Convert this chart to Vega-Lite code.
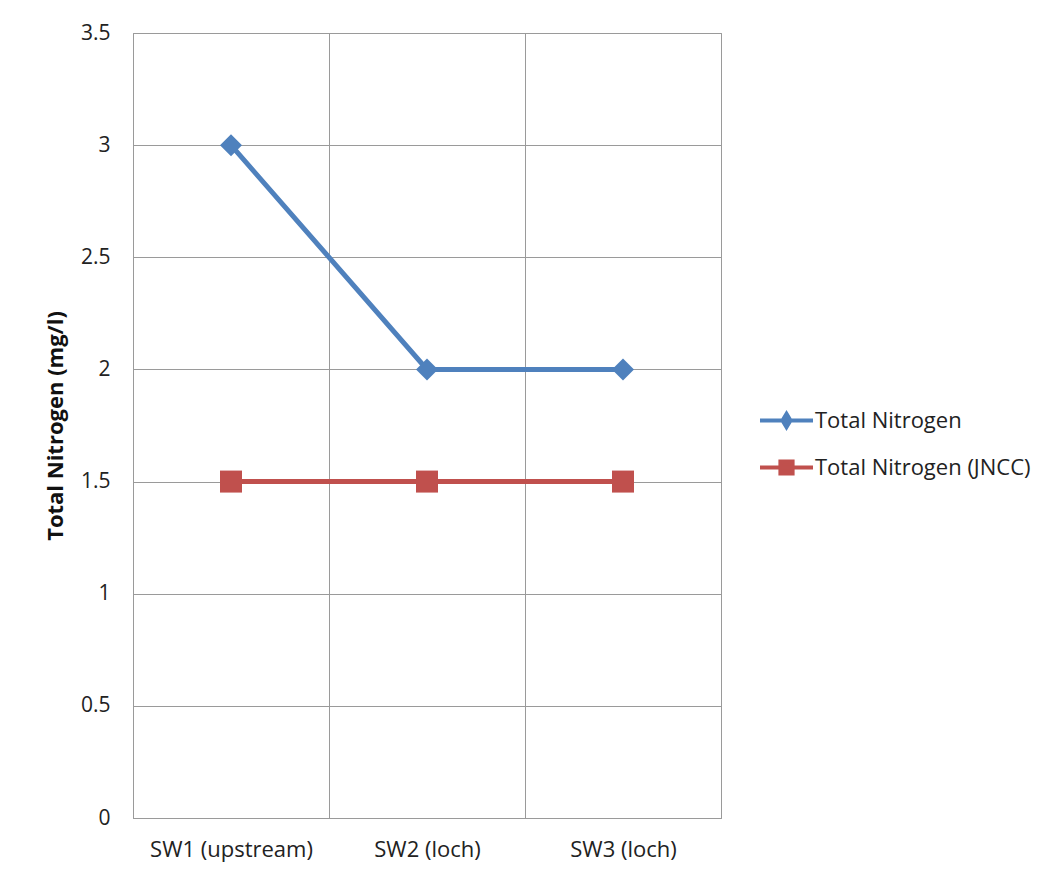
{
  "$schema": "https://vega.github.io/schema/vega-lite/v6.json",
  "width": 588,
  "height": 785,
  "autosize": {"type": "none"},
  "padding": {"left": 133, "top": 33, "right": 330, "bottom": 61},
  "background": "white",
  "config": {
    "font": "Open Sans",
    "view": {"stroke": "#9a9a9a", "strokeWidth": 1}
  },
  "data": {
    "values": [
      {"site": "SW1 (upstream)", "series": "Total Nitrogen", "value": 3},
      {"site": "SW2 (loch)", "series": "Total Nitrogen", "value": 2},
      {"site": "SW3 (loch)", "series": "Total Nitrogen", "value": 2},
      {"site": "SW1 (upstream)", "series": "Total Nitrogen (JNCC)", "value": 1.5},
      {"site": "SW2 (loch)", "series": "Total Nitrogen (JNCC)", "value": 1.5},
      {"site": "SW3 (loch)", "series": "Total Nitrogen (JNCC)", "value": 1.5}
    ]
  },
  "encoding": {
    "x": {
      "field": "site",
      "type": "nominal",
      "sort": null,
      "scale": {"type": "band", "paddingInner": 0, "paddingOuter": 0},
      "axis": {
        "title": null,
        "labelAngle": 0,
        "labelFontSize": 22,
        "labelColor": "#222222",
        "labelPadding": 21,
        "ticks": false,
        "tickBand": "extent",
        "grid": true,
        "gridColor": "#9a9a9a",
        "domainColor": "#9a9a9a"
      }
    },
    "y": {
      "field": "value",
      "type": "quantitative",
      "scale": {"domain": [0, 3.5], "nice": false},
      "axis": {
        "values": [0, 0.5, 1, 1.5, 2, 2.5, 3, 3.5],
        "format": "~g",
        "title": "Total Nitrogen (mg/l)",
        "titleFontSize": 22,
        "titleFontWeight": "bold",
        "titleColor": "#111111",
        "titlePadding": 13,
        "labelFontSize": 21,
        "labelColor": "#222222",
        "labelPadding": 23,
        "ticks": false,
        "grid": true,
        "gridColor": "#9a9a9a",
        "domainColor": "#9a9a9a"
      }
    },
    "color": {
      "field": "series",
      "type": "nominal",
      "scale": {
        "domain": ["Total Nitrogen", "Total Nitrogen (JNCC)"],
        "range": ["#4F81BD", "#C0504D"]
      }
    }
  },
  "resolve": {"scale": {"shape": "independent", "size": "independent"}, "legend": {"shape": "independent"}},
  "layer": [
    {
      "mark": {"type": "line", "strokeWidth": 5},
      "encoding": {
        "color": {
          "field": "series",
          "type": "nominal",
          "scale": {
            "domain": ["Total Nitrogen", "Total Nitrogen (JNCC)"],
            "range": ["#4F81BD", "#C0504D"]
          },
          "legend": {
            "title": null,
            "orient": "none",
            "legendX": 625,
            "legendY": 359,
            "labelFontSize": 22,
            "labelColor": "#222222",
            "labelLimit": 300,
            "symbolSize": 2809,
            "symbolStrokeWidth": 4,
            "labelOffset": 0,
            "rowPadding": 3,
            "encode": {
              "symbols": {
                "update": {
                  "shape": {"signal": "datum.value == 'Total Nitrogen' ? 'M-1,0H1M0,-0.25L0.15,0L0,0.25L-0.15,0Z' : 'M-1,0H1M-0.23,-0.23H0.23V0.23H-0.23Z'"},
                  "fill": {"scale": "color", "field": "value"},
                  "strokeWidth": {"value": 4}
                }
              }
            }
          }
        }
      }
    },
    {
      "mark": {"type": "point", "filled": true, "opacity": 1},
      "encoding": {
        "color": {
          "field": "series",
          "type": "nominal",
          "legend": null
        },
        "shape": {
          "field": "series",
          "type": "nominal",
          "scale": {
            "domain": ["Total Nitrogen", "Total Nitrogen (JNCC)"],
            "range": ["diamond", "square"]
          },
          "legend": null
        },
        "size": {
          "field": "series",
          "type": "nominal",
          "scale": {
            "domain": ["Total Nitrogen", "Total Nitrogen (JNCC)"],
            "range": [484, 484]
          },
          "legend": null
        }
      }
    }
  ]
}
